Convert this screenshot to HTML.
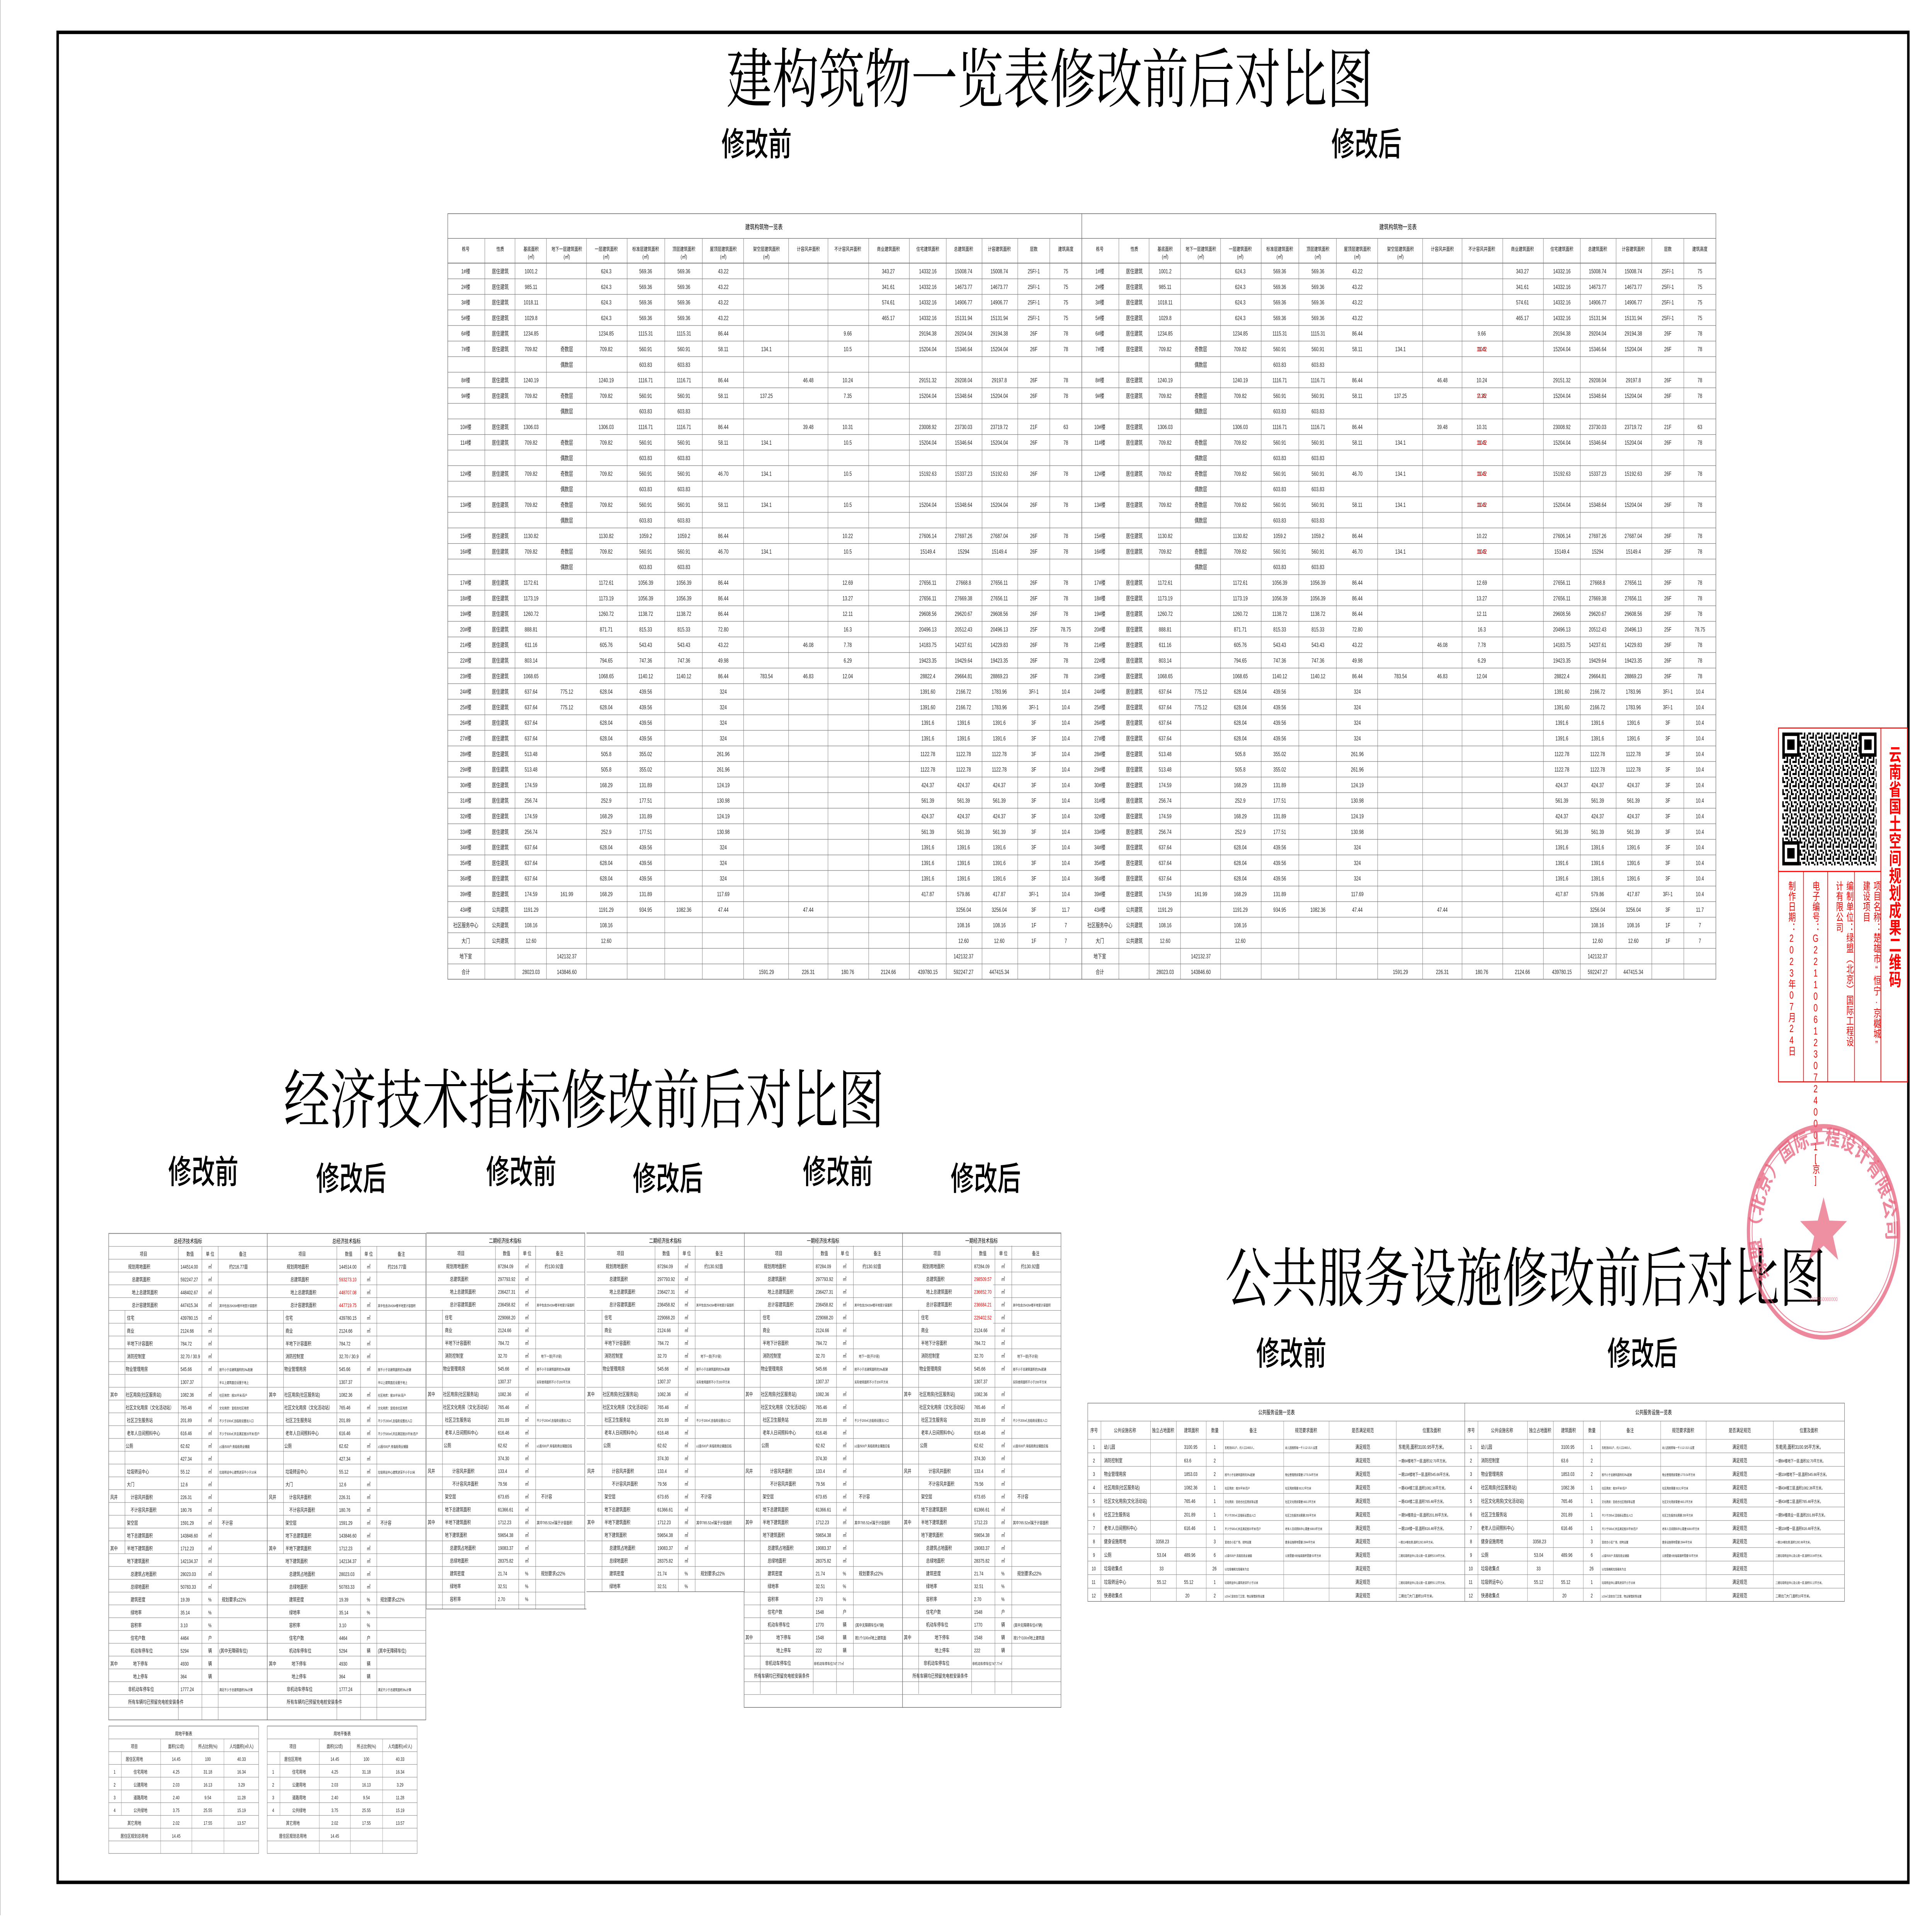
<!DOCTYPE html>
<html><head><meta charset="utf-8"><style>
html,body{margin:0;padding:0;background:#fff;width:100vw;height:100vh;overflow:hidden;}
svg{display:block;width:100vw;height:100vh;}
text{font-family:"Liberation Sans","Noto Sans CJK SC",sans-serif;}
.ti{font-family:"Liberation Serif","Noto Serif CJK SC",serif;}
.sb{font-family:"Liberation Sans","Noto Sans CJK SC",sans-serif;font-weight:500;}
</style></head><body>
<svg xmlns="http://www.w3.org/2000/svg" xmlns:xlink="http://www.w3.org/1999/xlink" viewBox="0 0 1568 1107.45" preserveAspectRatio="none">
<defs>
<pattern id="pb" x="0" y="152" width="20" height="9" patternUnits="userSpaceOnUse"><rect x="0" y="0" width="20" height="0.28" fill="#777"/></pattern>
<pattern id="pe" x="0" y="712.9" width="20" height="7.4" patternUnits="userSpaceOnUse"><rect x="0" y="0" width="20" height="0.25" fill="#888"/></pattern>
<pattern id="ps" x="0" y="997.6" width="20" height="7.37" patternUnits="userSpaceOnUse"><rect x="0" y="0" width="20" height="0.25" fill="#888"/></pattern>
<pattern id="pp" x="0" y="831.8" width="20" height="7.82" patternUnits="userSpaceOnUse"><rect x="0" y="0" width="20" height="0.25" fill="#888"/></pattern>
<pattern id="qr" x="1446.5" y="423.4" width="7" height="7" patternUnits="userSpaceOnUse">
<rect x="0" y="0" width="2.4" height="1.2" fill="#000"/><rect x="3.5" y="0" width="1.2" height="2.4" fill="#000"/><rect x="1.2" y="2.4" width="3.5" height="1.2" fill="#000"/><rect x="5.8" y="1.2" width="1.2" height="3.5" fill="#000"/><rect x="0" y="4.7" width="1.2" height="2.3" fill="#000"/><rect x="2.4" y="4.7" width="2.3" height="1.2" fill="#000"/><rect x="4.7" y="5.8" width="1.2" height="1.2" fill="#000"/></pattern>
<clipPath id="cT3"><rect x="346" y="712" width="130" height="218"/></clipPath>
<clipPath id="cT4"><rect x="476" y="712" width="130" height="208"/></clipPath>
</defs>
<rect x="0" y="0" width="1568" height="1107.45" fill="#fff"/>
<line x1="0.2" y1="0" x2="0.2" y2="1107" stroke="#999" stroke-width="0.3"/>
<rect x="46.8" y="18.7" width="1502" height="1069.3" fill="none" stroke="#000" stroke-width="2"/>

<text class="ti" x="852" y="59" font-size="37.5" text-anchor="middle" fill="#000">建构筑物一览表修改前后对比图</text>
<text class="sb" x="614" y="90" font-size="19" text-anchor="middle">修改前</text>
<text class="sb" x="1109" y="90" font-size="19" text-anchor="middle">修改后</text>

<text class="ti" x="474" y="649" font-size="37.5" text-anchor="middle">经济技术指标修改前后对比图</text>
<text class="sb" x="165" y="684" font-size="19" text-anchor="middle">修改前</text>
<text class="sb" x="285" y="688" font-size="19" text-anchor="middle">修改后</text>
<text class="sb" x="423" y="684" font-size="19" text-anchor="middle">修改前</text>
<text class="sb" x="542" y="688" font-size="19" text-anchor="middle">修改后</text>
<text class="sb" x="680" y="684" font-size="19" text-anchor="middle">修改前</text>
<text class="sb" x="800" y="688" font-size="19" text-anchor="middle">修改后</text>

<text class="ti" x="1238" y="752" font-size="37.5" text-anchor="middle">公共服务设施修改前后对比图</text>
<text class="sb" x="1048" y="789" font-size="19" text-anchor="middle">修改前</text>
<text class="sb" x="1333" y="789" font-size="19" text-anchor="middle">修改后</text>

<g id="bigT">
<rect x="363.4" y="123.5" width="514.6" height="442.5" fill="#fff" stroke="#666" stroke-width="0.35"/>
<rect x="363.4" y="152" width="514.6" height="414" fill="url(#pb)"/>
<line x1="363.4" y1="137.8" x2="878" y2="137.8" stroke="#666" stroke-width="0.3"/>
<line x1="363.4" y1="152" x2="878" y2="152" stroke="#666" stroke-width="0.3"/>
<g stroke="#777" stroke-width="0.28">
<line x1="393.5" y1="137.8" x2="393.5" y2="566"/><line x1="418" y1="137.8" x2="418" y2="566"/><line x1="443.5" y1="137.8" x2="443.5" y2="566"/><line x1="476" y1="137.8" x2="476" y2="566"/><line x1="509" y1="137.8" x2="509" y2="566"/><line x1="539.5" y1="137.8" x2="539.5" y2="566"/><line x1="570" y1="137.8" x2="570" y2="566"/><line x1="603.5" y1="137.8" x2="603.5" y2="566"/><line x1="640" y1="137.8" x2="640" y2="566"/><line x1="672" y1="137.8" x2="672" y2="566"/><line x1="705" y1="137.8" x2="705" y2="566"/><line x1="738" y1="137.8" x2="738" y2="566"/><line x1="768" y1="137.8" x2="768" y2="566"/><line x1="797" y1="137.8" x2="797" y2="566"/><line x1="826" y1="137.8" x2="826" y2="566"/><line x1="852" y1="137.8" x2="852" y2="566"/>
</g>
<text x="620" y="132.5" font-size="3.8" text-anchor="middle">建筑构筑物一览表</text>
<g font-size="3.1" text-anchor="middle" fill="#111">
<text y="145"><tspan x="378">栋号</tspan><tspan x="406">性质</tspan><tspan x="431">基底面积</tspan><tspan x="460">地下一层建筑面积</tspan><tspan x="492">一层建筑面积</tspan><tspan x="524">标准层建筑面积</tspan><tspan x="555">顶层建筑面积</tspan><tspan x="587">屋顶层建筑面积</tspan><tspan x="622">架空层建筑面积</tspan><tspan x="656">计容风井面积</tspan><tspan x="688">不计容风井面积</tspan><tspan x="721">商业建筑面积</tspan><tspan x="753">住宅建筑面积</tspan><tspan x="782">总建筑面积</tspan><tspan x="811">计容建筑面积</tspan><tspan x="839">层数</tspan><tspan x="865">建筑高度</tspan></text>
<text y="149.5"><tspan x="431">(㎡)</tspan><tspan x="460">(㎡)</tspan><tspan x="492">(㎡)</tspan><tspan x="524">(㎡)</tspan><tspan x="555">(㎡)</tspan><tspan x="587">(㎡)</tspan><tspan x="622">(㎡)</tspan></text>
</g>
<g font-size="3.4" text-anchor="middle" fill="#222">
<text y="158"><tspan x="378">1#楼</tspan><tspan x="406">居住建筑</tspan><tspan x="431">1001.2</tspan><tspan x="492">624.3</tspan><tspan x="524">569.36</tspan><tspan x="555">569.36</tspan><tspan x="587">43.22</tspan><tspan x="721">343.27</tspan><tspan x="753">14332.16</tspan><tspan x="782">15008.74</tspan><tspan x="811">15008.74</tspan><tspan x="839">25F/-1</tspan><tspan x="865">75</tspan></text>
<text y="167"><tspan x="378">2#楼</tspan><tspan x="406">居住建筑</tspan><tspan x="431">985.11</tspan><tspan x="492">624.3</tspan><tspan x="524">569.36</tspan><tspan x="555">569.36</tspan><tspan x="587">43.22</tspan><tspan x="721">341.61</tspan><tspan x="753">14332.16</tspan><tspan x="782">14673.77</tspan><tspan x="811">14673.77</tspan><tspan x="839">25F/-1</tspan><tspan x="865">75</tspan></text>
<text y="176"><tspan x="378">3#楼</tspan><tspan x="406">居住建筑</tspan><tspan x="431">1018.11</tspan><tspan x="492">624.3</tspan><tspan x="524">569.36</tspan><tspan x="555">569.36</tspan><tspan x="587">43.22</tspan><tspan x="721">574.61</tspan><tspan x="753">14332.16</tspan><tspan x="782">14906.77</tspan><tspan x="811">14906.77</tspan><tspan x="839">25F/-1</tspan><tspan x="865">75</tspan></text>
<text y="185"><tspan x="378">5#楼</tspan><tspan x="406">居住建筑</tspan><tspan x="431">1029.8</tspan><tspan x="492">624.3</tspan><tspan x="524">569.36</tspan><tspan x="555">569.36</tspan><tspan x="587">43.22</tspan><tspan x="721">465.17</tspan><tspan x="753">14332.16</tspan><tspan x="782">15131.94</tspan><tspan x="811">15131.94</tspan><tspan x="839">25F/-1</tspan><tspan x="865">75</tspan></text>
<text y="194"><tspan x="378">6#楼</tspan><tspan x="406">居住建筑</tspan><tspan x="431">1234.85</tspan><tspan x="492">1234.85</tspan><tspan x="524">1115.31</tspan><tspan x="555">1115.31</tspan><tspan x="587">86.44</tspan><tspan x="688">9.66</tspan><tspan x="753">29194.38</tspan><tspan x="782">29204.04</tspan><tspan x="811">29194.38</tspan><tspan x="839">26F</tspan><tspan x="865">78</tspan></text>
<text y="203"><tspan x="378">7#楼</tspan><tspan x="406">居住建筑</tspan><tspan x="431">709.82</tspan><tspan x="460">奇数层</tspan><tspan x="492">709.82</tspan><tspan x="524">560.91</tspan><tspan x="555">560.91</tspan><tspan x="587">58.11</tspan><tspan x="622">134.1</tspan><tspan x="688">10.5</tspan><tspan x="753">15204.04</tspan><tspan x="782">15346.64</tspan><tspan x="811">15204.04</tspan><tspan x="839">26F</tspan><tspan x="865">78</tspan></text>
<text y="212"><tspan x="460">偶数层</tspan><tspan x="524">603.83</tspan><tspan x="555">603.83</tspan></text>
<text y="221"><tspan x="378">8#楼</tspan><tspan x="406">居住建筑</tspan><tspan x="431">1240.19</tspan><tspan x="492">1240.19</tspan><tspan x="524">1116.71</tspan><tspan x="555">1116.71</tspan><tspan x="587">86.44</tspan><tspan x="656">46.48</tspan><tspan x="688">10.24</tspan><tspan x="753">29151.32</tspan><tspan x="782">29208.04</tspan><tspan x="811">29197.8</tspan><tspan x="839">26F</tspan><tspan x="865">78</tspan></text>
<text y="230"><tspan x="378">9#楼</tspan><tspan x="406">居住建筑</tspan><tspan x="431">709.82</tspan><tspan x="460">奇数层</tspan><tspan x="492">709.82</tspan><tspan x="524">560.91</tspan><tspan x="555">560.91</tspan><tspan x="587">58.11</tspan><tspan x="622">137.25</tspan><tspan x="688">7.35</tspan><tspan x="753">15204.04</tspan><tspan x="782">15348.64</tspan><tspan x="811">15204.04</tspan><tspan x="839">26F</tspan><tspan x="865">78</tspan></text>
<text y="239"><tspan x="460">偶数层</tspan><tspan x="524">603.83</tspan><tspan x="555">603.83</tspan></text>
<text y="248"><tspan x="378">10#楼</tspan><tspan x="406">居住建筑</tspan><tspan x="431">1306.03</tspan><tspan x="492">1306.03</tspan><tspan x="524">1116.71</tspan><tspan x="555">1116.71</tspan><tspan x="587">86.44</tspan><tspan x="656">39.48</tspan><tspan x="688">10.31</tspan><tspan x="753">23008.92</tspan><tspan x="782">23730.03</tspan><tspan x="811">23719.72</tspan><tspan x="839">21F</tspan><tspan x="865">63</tspan></text>
<text y="257"><tspan x="378">11#楼</tspan><tspan x="406">居住建筑</tspan><tspan x="431">709.82</tspan><tspan x="460">奇数层</tspan><tspan x="492">709.82</tspan><tspan x="524">560.91</tspan><tspan x="555">560.91</tspan><tspan x="587">58.11</tspan><tspan x="622">134.1</tspan><tspan x="688">10.5</tspan><tspan x="753">15204.04</tspan><tspan x="782">15346.64</tspan><tspan x="811">15204.04</tspan><tspan x="839">26F</tspan><tspan x="865">78</tspan></text>
<text y="266"><tspan x="460">偶数层</tspan><tspan x="524">603.83</tspan><tspan x="555">603.83</tspan></text>
<text y="275"><tspan x="378">12#楼</tspan><tspan x="406">居住建筑</tspan><tspan x="431">709.82</tspan><tspan x="460">奇数层</tspan><tspan x="492">709.82</tspan><tspan x="524">560.91</tspan><tspan x="555">560.91</tspan><tspan x="587">46.70</tspan><tspan x="622">134.1</tspan><tspan x="688">10.5</tspan><tspan x="753">15192.63</tspan><tspan x="782">15337.23</tspan><tspan x="811">15192.63</tspan><tspan x="839">26F</tspan><tspan x="865">78</tspan></text>
<text y="284"><tspan x="460">偶数层</tspan><tspan x="524">603.83</tspan><tspan x="555">603.83</tspan></text>
<text y="293"><tspan x="378">13#楼</tspan><tspan x="406">居住建筑</tspan><tspan x="431">709.82</tspan><tspan x="460">奇数层</tspan><tspan x="492">709.82</tspan><tspan x="524">560.91</tspan><tspan x="555">560.91</tspan><tspan x="587">58.11</tspan><tspan x="622">134.1</tspan><tspan x="688">10.5</tspan><tspan x="753">15204.04</tspan><tspan x="782">15348.64</tspan><tspan x="811">15204.04</tspan><tspan x="839">26F</tspan><tspan x="865">78</tspan></text>
<text y="302"><tspan x="460">偶数层</tspan><tspan x="524">603.83</tspan><tspan x="555">603.83</tspan></text>
<text y="311"><tspan x="378">15#楼</tspan><tspan x="406">居住建筑</tspan><tspan x="431">1130.82</tspan><tspan x="492">1130.82</tspan><tspan x="524">1059.2</tspan><tspan x="555">1059.2</tspan><tspan x="587">86.44</tspan><tspan x="688">10.22</tspan><tspan x="753">27606.14</tspan><tspan x="782">27697.26</tspan><tspan x="811">27687.04</tspan><tspan x="839">26F</tspan><tspan x="865">78</tspan></text>
<text y="320"><tspan x="378">16#楼</tspan><tspan x="406">居住建筑</tspan><tspan x="431">709.82</tspan><tspan x="460">奇数层</tspan><tspan x="492">709.82</tspan><tspan x="524">560.91</tspan><tspan x="555">560.91</tspan><tspan x="587">46.70</tspan><tspan x="622">134.1</tspan><tspan x="688">10.5</tspan><tspan x="753">15149.4</tspan><tspan x="782">15294</tspan><tspan x="811">15149.4</tspan><tspan x="839">26F</tspan><tspan x="865">78</tspan></text>
<text y="329"><tspan x="460">偶数层</tspan><tspan x="524">603.83</tspan><tspan x="555">603.83</tspan></text>
<text y="338"><tspan x="378">17#楼</tspan><tspan x="406">居住建筑</tspan><tspan x="431">1172.61</tspan><tspan x="492">1172.61</tspan><tspan x="524">1056.39</tspan><tspan x="555">1056.39</tspan><tspan x="587">86.44</tspan><tspan x="688">12.69</tspan><tspan x="753">27656.11</tspan><tspan x="782">27668.8</tspan><tspan x="811">27656.11</tspan><tspan x="839">26F</tspan><tspan x="865">78</tspan></text>
<text y="347"><tspan x="378">18#楼</tspan><tspan x="406">居住建筑</tspan><tspan x="431">1173.19</tspan><tspan x="492">1173.19</tspan><tspan x="524">1056.39</tspan><tspan x="555">1056.39</tspan><tspan x="587">86.44</tspan><tspan x="688">13.27</tspan><tspan x="753">27656.11</tspan><tspan x="782">27669.38</tspan><tspan x="811">27656.11</tspan><tspan x="839">26F</tspan><tspan x="865">78</tspan></text>
<text y="356"><tspan x="378">19#楼</tspan><tspan x="406">居住建筑</tspan><tspan x="431">1260.72</tspan><tspan x="492">1260.72</tspan><tspan x="524">1138.72</tspan><tspan x="555">1138.72</tspan><tspan x="587">86.44</tspan><tspan x="688">12.11</tspan><tspan x="753">29608.56</tspan><tspan x="782">29620.67</tspan><tspan x="811">29608.56</tspan><tspan x="839">26F</tspan><tspan x="865">78</tspan></text>
<text y="365"><tspan x="378">20#楼</tspan><tspan x="406">居住建筑</tspan><tspan x="431">888.81</tspan><tspan x="492">871.71</tspan><tspan x="524">815.33</tspan><tspan x="555">815.33</tspan><tspan x="587">72.80</tspan><tspan x="688">16.3</tspan><tspan x="753">20496.13</tspan><tspan x="782">20512.43</tspan><tspan x="811">20496.13</tspan><tspan x="839">25F</tspan><tspan x="865">78.75</tspan></text>
<text y="374"><tspan x="378">21#楼</tspan><tspan x="406">居住建筑</tspan><tspan x="431">611.16</tspan><tspan x="492">605.76</tspan><tspan x="524">543.43</tspan><tspan x="555">543.43</tspan><tspan x="587">43.22</tspan><tspan x="656">46.08</tspan><tspan x="688">7.78</tspan><tspan x="753">14183.75</tspan><tspan x="782">14237.61</tspan><tspan x="811">14229.83</tspan><tspan x="839">26F</tspan><tspan x="865">78</tspan></text>
<text y="383"><tspan x="378">22#楼</tspan><tspan x="406">居住建筑</tspan><tspan x="431">803.14</tspan><tspan x="492">794.65</tspan><tspan x="524">747.36</tspan><tspan x="555">747.36</tspan><tspan x="587">49.98</tspan><tspan x="688">6.29</tspan><tspan x="753">19423.35</tspan><tspan x="782">19429.64</tspan><tspan x="811">19423.35</tspan><tspan x="839">26F</tspan><tspan x="865">78</tspan></text>
<text y="392"><tspan x="378">23#楼</tspan><tspan x="406">居住建筑</tspan><tspan x="431">1068.65</tspan><tspan x="492">1068.65</tspan><tspan x="524">1140.12</tspan><tspan x="555">1140.12</tspan><tspan x="587">86.44</tspan><tspan x="622">783.54</tspan><tspan x="656">46.83</tspan><tspan x="688">12.04</tspan><tspan x="753">28822.4</tspan><tspan x="782">29664.81</tspan><tspan x="811">28869.23</tspan><tspan x="839">26F</tspan><tspan x="865">78</tspan></text>
<text y="401"><tspan x="378">24#楼</tspan><tspan x="406">居住建筑</tspan><tspan x="431">637.64</tspan><tspan x="460">775.12</tspan><tspan x="492">628.04</tspan><tspan x="524">439.56</tspan><tspan x="587">324</tspan><tspan x="753">1391.60</tspan><tspan x="782">2166.72</tspan><tspan x="811">1783.96</tspan><tspan x="839">3F/-1</tspan><tspan x="865">10.4</tspan></text>
<text y="410"><tspan x="378">25#楼</tspan><tspan x="406">居住建筑</tspan><tspan x="431">637.64</tspan><tspan x="460">775.12</tspan><tspan x="492">628.04</tspan><tspan x="524">439.56</tspan><tspan x="587">324</tspan><tspan x="753">1391.60</tspan><tspan x="782">2166.72</tspan><tspan x="811">1783.96</tspan><tspan x="839">3F/-1</tspan><tspan x="865">10.4</tspan></text>
<text y="419"><tspan x="378">26#楼</tspan><tspan x="406">居住建筑</tspan><tspan x="431">637.64</tspan><tspan x="492">628.04</tspan><tspan x="524">439.56</tspan><tspan x="587">324</tspan><tspan x="753">1391.6</tspan><tspan x="782">1391.6</tspan><tspan x="811">1391.6</tspan><tspan x="839">3F</tspan><tspan x="865">10.4</tspan></text>
<text y="428"><tspan x="378">27#楼</tspan><tspan x="406">居住建筑</tspan><tspan x="431">637.64</tspan><tspan x="492">628.04</tspan><tspan x="524">439.56</tspan><tspan x="587">324</tspan><tspan x="753">1391.6</tspan><tspan x="782">1391.6</tspan><tspan x="811">1391.6</tspan><tspan x="839">3F</tspan><tspan x="865">10.4</tspan></text>
<text y="437"><tspan x="378">28#楼</tspan><tspan x="406">居住建筑</tspan><tspan x="431">513.48</tspan><tspan x="492">505.8</tspan><tspan x="524">355.02</tspan><tspan x="587">261.96</tspan><tspan x="753">1122.78</tspan><tspan x="782">1122.78</tspan><tspan x="811">1122.78</tspan><tspan x="839">3F</tspan><tspan x="865">10.4</tspan></text>
<text y="446"><tspan x="378">29#楼</tspan><tspan x="406">居住建筑</tspan><tspan x="431">513.48</tspan><tspan x="492">505.8</tspan><tspan x="524">355.02</tspan><tspan x="587">261.96</tspan><tspan x="753">1122.78</tspan><tspan x="782">1122.78</tspan><tspan x="811">1122.78</tspan><tspan x="839">3F</tspan><tspan x="865">10.4</tspan></text>
<text y="455"><tspan x="378">30#楼</tspan><tspan x="406">居住建筑</tspan><tspan x="431">174.59</tspan><tspan x="492">168.29</tspan><tspan x="524">131.89</tspan><tspan x="587">124.19</tspan><tspan x="753">424.37</tspan><tspan x="782">424.37</tspan><tspan x="811">424.37</tspan><tspan x="839">3F</tspan><tspan x="865">10.4</tspan></text>
<text y="464"><tspan x="378">31#楼</tspan><tspan x="406">居住建筑</tspan><tspan x="431">256.74</tspan><tspan x="492">252.9</tspan><tspan x="524">177.51</tspan><tspan x="587">130.98</tspan><tspan x="753">561.39</tspan><tspan x="782">561.39</tspan><tspan x="811">561.39</tspan><tspan x="839">3F</tspan><tspan x="865">10.4</tspan></text>
<text y="473"><tspan x="378">32#楼</tspan><tspan x="406">居住建筑</tspan><tspan x="431">174.59</tspan><tspan x="492">168.29</tspan><tspan x="524">131.89</tspan><tspan x="587">124.19</tspan><tspan x="753">424.37</tspan><tspan x="782">424.37</tspan><tspan x="811">424.37</tspan><tspan x="839">3F</tspan><tspan x="865">10.4</tspan></text>
<text y="482"><tspan x="378">33#楼</tspan><tspan x="406">居住建筑</tspan><tspan x="431">256.74</tspan><tspan x="492">252.9</tspan><tspan x="524">177.51</tspan><tspan x="587">130.98</tspan><tspan x="753">561.39</tspan><tspan x="782">561.39</tspan><tspan x="811">561.39</tspan><tspan x="839">3F</tspan><tspan x="865">10.4</tspan></text>
<text y="491"><tspan x="378">34#楼</tspan><tspan x="406">居住建筑</tspan><tspan x="431">637.64</tspan><tspan x="492">628.04</tspan><tspan x="524">439.56</tspan><tspan x="587">324</tspan><tspan x="753">1391.6</tspan><tspan x="782">1391.6</tspan><tspan x="811">1391.6</tspan><tspan x="839">3F</tspan><tspan x="865">10.4</tspan></text>
<text y="500"><tspan x="378">35#楼</tspan><tspan x="406">居住建筑</tspan><tspan x="431">637.64</tspan><tspan x="492">628.04</tspan><tspan x="524">439.56</tspan><tspan x="587">324</tspan><tspan x="753">1391.6</tspan><tspan x="782">1391.6</tspan><tspan x="811">1391.6</tspan><tspan x="839">3F</tspan><tspan x="865">10.4</tspan></text>
<text y="509"><tspan x="378">36#楼</tspan><tspan x="406">居住建筑</tspan><tspan x="431">637.64</tspan><tspan x="492">628.04</tspan><tspan x="524">439.56</tspan><tspan x="587">324</tspan><tspan x="753">1391.6</tspan><tspan x="782">1391.6</tspan><tspan x="811">1391.6</tspan><tspan x="839">3F</tspan><tspan x="865">10.4</tspan></text>
<text y="518"><tspan x="378">39#楼</tspan><tspan x="406">居住建筑</tspan><tspan x="431">174.59</tspan><tspan x="460">161.99</tspan><tspan x="492">168.29</tspan><tspan x="524">131.89</tspan><tspan x="587">117.69</tspan><tspan x="753">417.87</tspan><tspan x="782">579.86</tspan><tspan x="811">417.87</tspan><tspan x="839">3F/-1</tspan><tspan x="865">10.4</tspan></text>
<text y="527"><tspan x="378">43#楼</tspan><tspan x="406">公共建筑</tspan><tspan x="431">1191.29</tspan><tspan x="492">1191.29</tspan><tspan x="524">934.95</tspan><tspan x="555">1082.36</tspan><tspan x="587">47.44</tspan><tspan x="656">47.44</tspan><tspan x="782">3256.04</tspan><tspan x="811">3256.04</tspan><tspan x="839">3F</tspan><tspan x="865">11.7</tspan></text>
<text y="536"><tspan x="378">社区服务中心</tspan><tspan x="406">公共建筑</tspan><tspan x="431">108.16</tspan><tspan x="492">108.16</tspan><tspan x="782">108.16</tspan><tspan x="811">108.16</tspan><tspan x="839">1F</tspan><tspan x="865">7</tspan></text>
<text y="545"><tspan x="378">大门</tspan><tspan x="406">公共建筑</tspan><tspan x="431">12.60</tspan><tspan x="492">12.60</tspan><tspan x="782">12.60</tspan><tspan x="811">12.60</tspan><tspan x="839">1F</tspan><tspan x="865">7</tspan></text>
<text y="554"><tspan x="378">地下室</tspan><tspan x="460">142132.37</tspan><tspan x="782">142132.37</tspan></text>
<text y="563"><tspan x="378">合计</tspan><tspan x="431">28023.03</tspan><tspan x="460">143846.60</tspan><tspan x="622">1591.29</tspan><tspan x="656">226.31</tspan><tspan x="688">180.76</tspan><tspan x="721">2124.66</tspan><tspan x="753">439780.15</tspan><tspan x="782">592247.27</tspan><tspan x="811">447415.34</tspan></text>
</g>
</g>
<use xlink:href="#bigT" href="#bigT" transform="translate(514.6,0)"/>
<g font-size="3.4" text-anchor="middle" fill="#e00">
<text y="203"><tspan x="1202.6">11.42</tspan></text>
<text y="230"><tspan x="1202.6">11.42</tspan></text>
<text y="257"><tspan x="1202.6">11.42</tspan></text>
<text y="275"><tspan x="1202.6">11.42</tspan></text>
<text y="293"><tspan x="1202.6">11.42</tspan></text>
<text y="320"><tspan x="1202.6">11.42</tspan></text>
</g>

<g>
<rect x="1443.4" y="420.8" width="104.6" height="204.5" fill="#fff" stroke="#f00" stroke-width="0.6"/>
<line x1="1526.5" y1="420.8" x2="1526.5" y2="625.3" stroke="#f00" stroke-width="0.6"/>
<line x1="1443.4" y1="503.7" x2="1526.5" y2="503.7" stroke="#f00" stroke-width="0.6"/>
<line x1="1463.7" y1="503.7" x2="1463.7" y2="625.3" stroke="#f00" stroke-width="0.5"/>
<line x1="1483.3" y1="503.7" x2="1483.3" y2="625.3" stroke="#f00" stroke-width="0.5"/>
<line x1="1505.1" y1="503.7" x2="1505.1" y2="625.3" stroke="#f00" stroke-width="0.5"/>
<rect x="1446.5" y="423.4" width="76.5" height="76.8" fill="url(#qr)"/>
<g fill="#fff"><rect x="1446.5" y="423.4" width="14" height="14"/><rect x="1509" y="423.4" width="14" height="14"/><rect x="1446.5" y="486.2" width="14" height="14"/></g>
<g fill="none" stroke="#000" stroke-width="2"><rect x="1447.5" y="424.4" width="12" height="12"/><rect x="1510" y="424.4" width="12" height="12"/><rect x="1447.5" y="487.2" width="12" height="12"/></g>
<g fill="#000"><rect x="1450.5" y="427.4" width="6" height="6"/><rect x="1513" y="427.4" width="6" height="6"/><rect x="1450.5" y="490.2" width="6" height="6"/></g>
<g fill="#f00">
<text x="1537.2" y="431" font-size="10" style="writing-mode:vertical-rl;text-orientation:upright" font-weight="bold">云南省国土空间规划成果二维码</text>
<text x="1454" y="509" font-size="6" style="writing-mode:vertical-rl;text-orientation:upright">制作日期：2023年07月24日</text>
<text x="1473.5" y="509" font-size="6" style="writing-mode:vertical-rl;text-orientation:upright">电子编号：G221100612307240001[京]</text>
<text x="1501" y="509" font-size="6" style="writing-mode:vertical-rl;text-orientation:upright">编制单位：绿盟（北京）国际工程设</text>
<text x="1492.6" y="509" font-size="6" style="writing-mode:vertical-rl;text-orientation:upright">计有限公司</text>
<text x="1523" y="509" font-size="6" style="writing-mode:vertical-rl;text-orientation:upright">项目名称：楚雄市“恒宁·京樾城”</text>
<text x="1514.5" y="509" font-size="6" style="writing-mode:vertical-rl;text-orientation:upright">建设项目</text>
</g>
</g>

<g id="econT1">
<rect x="88.2" y="712.9" width="128.7" height="281.2" fill="#fff" stroke="#555" stroke-width="0.3"/>
<rect x="88.2" y="712.9" width="128.7" height="281.2" fill="url(#pe)"/>
<g stroke="#777" stroke-width="0.25">
<line x1="144.7" y1="720.3" x2="144.7" y2="994"/><line x1="163.9" y1="720.3" x2="163.9" y2="994"/><line x1="177.1" y1="720.3" x2="177.1" y2="994"/><line x1="101.4" y1="757.3" x2="101.4" y2="898"/>
</g>
<text x="152.5" y="718.5" font-size="3.3" text-anchor="middle">总经济技术指标</text>
<g font-size="3" fill="#222">
<text y="725.9"><tspan x="116.5" text-anchor="middle">项目</tspan><tspan x="154.3" text-anchor="middle">数值</tspan><tspan x="170.5" text-anchor="middle">单 位</tspan><tspan x="197" text-anchor="middle">备注</tspan></text>
<text y="733.3"><tspan x="104">规划用地面积</tspan><tspan x="146.5">144514.00</tspan><tspan x="169">㎡</tspan><tspan x="186">约216.77亩</tspan></text>
<text y="740.7"><tspan x="107">总建筑面积</tspan><tspan x="146.5">592247.27</tspan><tspan x="169">㎡</tspan></text>
<text y="748.1"><tspan x="107">地上总建筑面积</tspan><tspan x="146.5">448402.67</tspan><tspan x="169">㎡</tspan></text>
<text y="755.5"><tspan x="107">总计容建筑面积</tspan><tspan x="146.5">447415.34</tspan><tspan x="169">㎡</tspan><tspan x="178" font-size="2">其中包含25#26#楼半地室计容面积</tspan></text>
<text y="762.9"><tspan x="103">住宅</tspan><tspan x="146.5">439780.15</tspan><tspan x="169">㎡</tspan></text>
<text y="770.3"><tspan x="103">商业</tspan><tspan x="146.5">2124.66</tspan><tspan x="169">㎡</tspan></text>
<text y="777.7"><tspan x="103">半地下计容面积</tspan><tspan x="146.5">784.72</tspan><tspan x="169">㎡</tspan></text>
<text y="785.1"><tspan x="103">消防控制室</tspan><tspan x="146.5">32.70 / 30.9</tspan><tspan x="169">㎡</tspan></text>
<text y="792.5"><tspan x="102">物业管理用房</tspan><tspan x="146.5">545.66</tspan><tspan x="169">㎡</tspan><tspan x="178" font-size="2">按不小于总建筑面积的3‰配建</tspan></text>
<text y="799.9"><tspan x="146.5">1307.37</tspan><tspan x="178" font-size="2">半以上建筑面应设置于地上</tspan></text>
<text y="807.3"><tspan x="89.5">其中</tspan><tspan x="102">社区用房(社区服务站)</tspan><tspan x="146.5">1082.36</tspan><tspan x="169">㎡</tspan><tspan x="178" font-size="2">社区用房：按30平米/百户</tspan></text>
<text y="814.7"><tspan x="102">社区文化用房（文化活动站）</tspan><tspan x="146.5">765.46</tspan><tspan x="169">㎡</tspan><tspan x="178" font-size="2">文化用房：宜结合社区用房</tspan></text>
<text y="822.1"><tspan x="103">社区卫生服务站</tspan><tspan x="146.5">201.89</tspan><tspan x="169">㎡</tspan><tspan x="178" font-size="2">不少于200㎡,且临街设置出入口</tspan></text>
<text y="829.5"><tspan x="103">老年人日间照料中心</tspan><tspan x="146.5">616.46</tspan><tspan x="169">㎡</tspan><tspan x="178" font-size="2">不少于500㎡,并且满足按20平米/百户</tspan></text>
<text y="836.9"><tspan x="102">公厕</tspan><tspan x="146.5">62.62</tspan><tspan x="169">㎡</tspan><tspan x="178" font-size="2">≥1座/500户,有临街商业铺面</tspan></text>
<text y="844.3"><tspan x="146.5">427.34</tspan><tspan x="169">㎡</tspan></text>
<text y="851.7"><tspan x="103">垃圾转运中心</tspan><tspan x="146.5">55.12</tspan><tspan x="169">㎡</tspan><tspan x="178" font-size="2">垃圾转运中心建筑进深不小于10米</tspan></text>
<text y="859.1"><tspan x="103">大门</tspan><tspan x="146.5">12.6</tspan><tspan x="169">㎡</tspan></text>
<text y="866.5"><tspan x="89.5">风井</tspan><tspan x="106">计容风井面积</tspan><tspan x="146.5">226.31</tspan><tspan x="169">㎡</tspan></text>
<text y="873.9"><tspan x="106">不计容风井面积</tspan><tspan x="146.5">180.76</tspan><tspan x="169">㎡</tspan></text>
<text y="881.3"><tspan x="103">架空层</tspan><tspan x="146.5">1591.29</tspan><tspan x="169">㎡</tspan><tspan x="180">不计容</tspan></text>
<text y="888.7"><tspan x="103">地下总建筑面积</tspan><tspan x="146.5">143846.60</tspan><tspan x="169">㎡</tspan></text>
<text y="896.1"><tspan x="89.5">其中</tspan><tspan x="103">半地下建筑面积</tspan><tspan x="146.5">1712.23</tspan><tspan x="169">㎡</tspan></text>
<text y="903.5"><tspan x="103">地下建筑面积</tspan><tspan x="146.5">142134.37</tspan><tspan x="169">㎡</tspan></text>
<text y="910.9"><tspan x="106">总建筑占地面积</tspan><tspan x="146.5">28023.03</tspan><tspan x="169">㎡</tspan></text>
<text y="918.3"><tspan x="106">总绿地面积</tspan><tspan x="146.5">50783.33</tspan><tspan x="169">㎡</tspan></text>
<text y="925.7"><tspan x="106">建筑密度</tspan><tspan x="146.5">19.39</tspan><tspan x="169">%</tspan><tspan x="180">规划要求≤22%</tspan></text>
<text y="933.1"><tspan x="106">绿地率</tspan><tspan x="146.5">35.14</tspan><tspan x="169">%</tspan></text>
<text y="940.5"><tspan x="106">容积率</tspan><tspan x="146.5">3.10</tspan><tspan x="169">%</tspan></text>
<text y="947.9"><tspan x="106">住宅户数</tspan><tspan x="146.5">4464</tspan><tspan x="169">户</tspan></text>
<text y="955.3"><tspan x="106">机动车停车位</tspan><tspan x="146.5">5294</tspan><tspan x="169">辆</tspan><tspan x="178">(其中无障碍车位)</tspan></text>
<text y="962.7"><tspan x="89.5">其中</tspan><tspan x="108">地下停车</tspan><tspan x="146.5">4930</tspan><tspan x="169">辆</tspan></text>
<text y="970.1"><tspan x="108">地上停车</tspan><tspan x="146.5">364</tspan><tspan x="169">辆</tspan></text>
<text y="977.5"><tspan x="104">非机动车停车位</tspan><tspan x="146.5">1777.24</tspan><tspan x="178" font-size="2">满足不少于总建筑面积3‰计算</tspan></text>
<text y="984.9"><tspan x="104">所有车辆均已预留充电桩安装条件</tspan></text>
</g>
</g>
<use xlink:href="#econT1" href="#econT1" transform="translate(128.7,0)"/>
<g font-size="3" fill="#e00"><rect x="274.8" y="736.5" width="17" height="20" fill="#fff"/><text y="740.7"><tspan x="275.2">593273.10</tspan></text><text y="748.1"><tspan x="275.2">448707.08</tspan></text><text y="755.5"><tspan x="275.2">447719.75</tspan></text></g>

<g id="smallT">
<rect x="88.2" y="997.6" width="121.7" height="73.7" fill="#fff" stroke="#777" stroke-width="0.25"/>
<rect x="88.2" y="997.6" width="121.7" height="73.7" fill="url(#ps)"/>
<g stroke="#888" stroke-width="0.22"><line x1="98.5" y1="1012.3" x2="98.5" y2="1049.2"/><line x1="130.4" y1="1005" x2="130.4" y2="1071.3"/><line x1="155.7" y1="1005" x2="155.7" y2="1071.3"/><line x1="181.8" y1="1005" x2="181.8" y2="1071.3"/></g>
<g font-size="2.8" text-anchor="middle" fill="#222">
<text x="149" y="1003">用地平衡表</text>
<text y="1010.4"><tspan x="109">项目</tspan><tspan x="143">面积(公顷)</tspan><tspan x="168.7">所占比例(%)</tspan><tspan x="196">人均面积(㎡/人)</tspan></text>
<text y="1017.8"><tspan x="109">居住区用地</tspan><tspan x="143">14.45</tspan><tspan x="168.7">100</tspan><tspan x="196">40.33</tspan></text>
<text y="1025.2"><tspan x="93">1</tspan><tspan x="114">住宅用地</tspan><tspan x="143">4.25</tspan><tspan x="168.7">31.18</tspan><tspan x="196">16.34</tspan></text>
<text y="1032.6"><tspan x="93">2</tspan><tspan x="114">公建用地</tspan><tspan x="143">2.03</tspan><tspan x="168.7">16.13</tspan><tspan x="196">3.29</tspan></text>
<text y="1040"><tspan x="93">3</tspan><tspan x="114">道路用地</tspan><tspan x="143">2.40</tspan><tspan x="168.7">9.54</tspan><tspan x="196">11.28</tspan></text>
<text y="1047.4"><tspan x="93">4</tspan><tspan x="114">公共绿地</tspan><tspan x="143">3.75</tspan><tspan x="168.7">25.55</tspan><tspan x="196">15.19</tspan></text>
<text y="1054.8"><tspan x="109">其它用地</tspan><tspan x="143">2.02</tspan><tspan x="168.7">17.55</tspan><tspan x="196">13.57</tspan></text>
<text y="1062.2"><tspan x="109">居住区规划总用地</tspan><tspan x="143">14.45</tspan></text>
</g>
</g>
<use xlink:href="#smallT" href="#smallT" transform="translate(128.7,0)"/>

<g id="econT5">
<rect x="603.9" y="712.6" width="128.6" height="274.3" fill="#fff" stroke="#555" stroke-width="0.3"/>
<rect x="603.9" y="712.6" width="128.6" height="274.3" fill="url(#pe)"/>
<g stroke="#777" stroke-width="0.25">
<line x1="660" y1="720" x2="660" y2="979"/><line x1="678.9" y1="720" x2="678.9" y2="979"/><line x1="692.6" y1="720" x2="692.6" y2="979"/><line x1="617" y1="757" x2="617" y2="979"/>
</g>
<text x="668" y="718.3" font-size="3.3" text-anchor="middle">一期经济技术指标</text>
<g font-size="3" fill="#222">
<text y="725.6"><tspan x="632" text-anchor="middle">项目</tspan><tspan x="669" text-anchor="middle">数值</tspan><tspan x="685.7" text-anchor="middle">单 位</tspan><tspan x="712" text-anchor="middle">备注</tspan></text>
<text y="733"><tspan x="620">规划用地面积</tspan><tspan x="662">87284.09</tspan><tspan x="684">㎡</tspan><tspan x="700">约130.92亩</tspan></text>
<text y="740.4"><tspan x="623">总建筑面积</tspan><tspan x="662">297793.92</tspan><tspan x="684">㎡</tspan></text>
<text y="747.8"><tspan x="623">地上总建筑面积</tspan><tspan x="662">236427.31</tspan><tspan x="684">㎡</tspan></text>
<text y="755.2"><tspan x="623">总计容建筑面积</tspan><tspan x="662">236458.82</tspan><tspan x="684">㎡</tspan><tspan x="693.5" font-size="2">其中包含25#26#楼半地室计容面积</tspan></text>
<text y="762.6"><tspan x="619">住宅</tspan><tspan x="662">229068.20</tspan><tspan x="684">㎡</tspan></text>
<text y="770"><tspan x="619">商业</tspan><tspan x="662">2124.66</tspan><tspan x="684">㎡</tspan></text>
<text y="777.4"><tspan x="619">半地下计容面积</tspan><tspan x="662">784.72</tspan><tspan x="684">㎡</tspan></text>
<text y="784.8"><tspan x="619">消防控制室</tspan><tspan x="662">32.70</tspan><tspan x="684">㎡</tspan><tspan x="697" font-size="2.2">地下一层(不计容)</tspan></text>
<text y="792.2"><tspan x="617.5">物业管理用房</tspan><tspan x="662">545.66</tspan><tspan x="684">㎡</tspan><tspan x="693.5" font-size="2">按不小于总建筑面积的3‰配建</tspan></text>
<text y="799.6"><tspan x="662">1307.37</tspan><tspan x="693.5" font-size="2">实际使用面积不小于200平方米</tspan></text>
<text y="807"><tspan x="605">其中</tspan><tspan x="617.5">社区用房(社区服务站)</tspan><tspan x="662">1082.36</tspan><tspan x="684">㎡</tspan></text>
<text y="814.4"><tspan x="617.5">社区文化用房（文化活动站）</tspan><tspan x="662">765.46</tspan><tspan x="684">㎡</tspan></text>
<text y="821.8"><tspan x="619">社区卫生服务站</tspan><tspan x="662">201.89</tspan><tspan x="684">㎡</tspan><tspan x="693.5" font-size="2">不少于200㎡,且临街设置出入口</tspan></text>
<text y="829.2"><tspan x="619">老年人日间照料中心</tspan><tspan x="662">616.46</tspan><tspan x="684">㎡</tspan></text>
<text y="836.6"><tspan x="618">公厕</tspan><tspan x="662">62.62</tspan><tspan x="684">㎡</tspan><tspan x="693.5" font-size="2">≥1座/500户,有临街商业铺面应临</tspan></text>
<text y="844"><tspan x="662">374.30</tspan><tspan x="684">㎡</tspan></text>
<text y="851.4"><tspan x="605">风井</tspan><tspan x="625">计容风井面积</tspan><tspan x="662">133.4</tspan><tspan x="684">㎡</tspan></text>
<text y="858.8"><tspan x="625">不计容风井面积</tspan><tspan x="662">79.56</tspan><tspan x="684">㎡</tspan></text>
<text y="866.2"><tspan x="619">架空层</tspan><tspan x="662">673.65</tspan><tspan x="684">㎡</tspan><tspan x="697">不计容</tspan></text>
<text y="873.6"><tspan x="619">地下总建筑面积</tspan><tspan x="662">61366.61</tspan><tspan x="684">㎡</tspan></text>
<text y="881"><tspan x="605">其中</tspan><tspan x="619">半地下建筑面积</tspan><tspan x="662">1712.23</tspan><tspan x="684">㎡</tspan><tspan x="693.5" font-size="2.4">其中765.52㎡属于计容面积</tspan></text>
<text y="888.4"><tspan x="619">地下建筑面积</tspan><tspan x="662">59654.38</tspan><tspan x="684">㎡</tspan></text>
<text y="895.8"><tspan x="623">总建筑占地面积</tspan><tspan x="662">19083.37</tspan><tspan x="684">㎡</tspan></text>
<text y="903.2"><tspan x="623">总绿地面积</tspan><tspan x="662">28375.82</tspan><tspan x="684">㎡</tspan></text>
<text y="910.6"><tspan x="623">建筑密度</tspan><tspan x="662">21.74</tspan><tspan x="684">%</tspan><tspan x="697">规划要求≤22%</tspan></text>
<text y="918"><tspan x="623">绿地率</tspan><tspan x="662">32.51</tspan><tspan x="684">%</tspan></text>
<text y="925.4"><tspan x="623">容积率</tspan><tspan x="662">2.70</tspan><tspan x="684">%</tspan></text>
<text y="932.8"><tspan x="623">住宅户数</tspan><tspan x="662">1548</tspan><tspan x="684">户</tspan></text>
<text y="940.2"><tspan x="623">机动车停车位</tspan><tspan x="662">1770</tspan><tspan x="684">辆</tspan><tspan x="694" font-size="2.4">(其中无障碍车位47辆)</tspan></text>
<text y="947.6"><tspan x="605">其中</tspan><tspan x="630">地下停车</tspan><tspan x="662">1548</tspan><tspan x="684">辆</tspan><tspan x="694" font-size="2.4">按1个/100㎡地上建筑面</tspan></text>
<text y="955"><tspan x="630">地上停车</tspan><tspan x="662">222</tspan><tspan x="684">辆</tspan></text>
<text y="962.4"><tspan x="621">非机动车停车位</tspan><tspan x="660.5" font-size="2.2">非机动车停车位747.77㎡</tspan></text>
<text y="969.8"><tspan x="612">所有车辆均已预留充电桩安装条件</tspan></text>
</g>
</g>
<use xlink:href="#econT5" href="#econT5" transform="translate(128.6,0)"/>
<g font-size="3" fill="#e00"><rect x="789" y="736" width="17" height="30" fill="#fff"/><text y="740.4"><tspan x="790.6">298509.57</tspan></text><text y="747.8"><tspan x="790.6">236652.70</tspan></text><text y="755.2"><tspan x="790.6">236684.21</tspan></text><text y="762.6"><tspan x="790.6">229402.52</tspan></text></g>

<g clip-path="url(#cT3)"><use xlink:href="#econT5" href="#econT5" transform="translate(-257.9,0)"/></g>
<g clip-path="url(#cT4)"><use xlink:href="#econT5" href="#econT5" transform="translate(-128.4,0)"/></g>
<line x1="346" y1="930" x2="475.9" y2="930" stroke="#555" stroke-width="0.3"/>
<line x1="476" y1="920" x2="604" y2="920" stroke="#555" stroke-width="0.3"/>
<g font-size="3.3" text-anchor="middle"><rect x="380" y="714.5" width="60" height="5" fill="#fff"/><text x="410" y="718.3">二期经济技术指标</text><rect x="510" y="714.5" width="60" height="5" fill="#fff"/><text x="540" y="718.3">二期经济技术指标</text></g>

<g id="pubT">
<rect x="882.8" y="811" width="308.2" height="114.6" fill="#fff" stroke="#666" stroke-width="0.3"/>
<rect x="882.8" y="831.8" width="308.2" height="93.8" fill="url(#pp)"/>
<line x1="882.8" y1="821.4" x2="1191" y2="821.4" stroke="#777" stroke-width="0.25"/>
<g stroke="#888" stroke-width="0.25">
<line x1="893.5" y1="821.4" x2="893.5" y2="925.6"/><line x1="933.7" y1="821.4" x2="933.7" y2="925.6"/><line x1="954.7" y1="821.4" x2="954.7" y2="925.6"/><line x1="979" y1="821.4" x2="979" y2="925.6"/><line x1="992.9" y1="821.4" x2="992.9" y2="925.6"/><line x1="1041.8" y1="821.4" x2="1041.8" y2="925.6"/><line x1="1078.7" y1="821.4" x2="1078.7" y2="925.6"/><line x1="1133.2" y1="821.4" x2="1133.2" y2="925.6"/>
</g>
<text x="1036" y="817.5" font-size="3.3" text-anchor="middle">公共服务设施一览表</text>
<g font-size="3" fill="#222">
<text y="827.8" text-anchor="middle"><tspan x="888">序号</tspan><tspan x="913">公共设施名称</tspan><tspan x="944">独立占地面积</tspan><tspan x="967">建筑面积</tspan><tspan x="986">数量</tspan><tspan x="1017">备注</tspan><tspan x="1060">规范要求面积</tspan><tspan x="1106">是否满足规范</tspan><tspan x="1162">位置及面积</tspan></text>
<text y="837.5"><tspan x="887">1</tspan><tspan x="896">幼儿园</tspan><tspan x="961">3100.95</tspan><tspan x="985">1</tspan><tspan x="994" font-size="1.8">东乾苑831户，约人口2493人。</tspan><tspan x="1043" font-size="1.8">幼儿园按照每一千人12-15人设置</tspan><tspan x="1100">满足规范</tspan><tspan x="1135">东乾苑,面积3100.95平方米。</tspan></text>
<text y="845.3"><tspan x="887">2</tspan><tspan x="896">消防控制室</tspan><tspan x="961">63.6</tspan><tspan x="985">2</tspan><tspan x="1100">满足规范</tspan><tspan x="1135" font-size="2.4">一期6#楼地下一层,面积32.70平方米。</tspan></text>
<text y="853.1"><tspan x="887">3</tspan><tspan x="896">物业管理用房</tspan><tspan x="961">1853.03</tspan><tspan x="985">2</tspan><tspan x="994" font-size="1.8">按不小于总建筑面积的3‰配建</tspan><tspan x="1043" font-size="1.8">物业管理用房需要:1770.54平方米</tspan><tspan x="1100">满足规范</tspan><tspan x="1135" font-size="2.4">一期10#楼地下一层,面积545.66平方米。</tspan></text>
<text y="860.9"><tspan x="887">4</tspan><tspan x="896">社区用房(社区服务站)</tspan><tspan x="961">1082.36</tspan><tspan x="985">1</tspan><tspan x="994" font-size="1.8">社区用房：按30平米/百户</tspan><tspan x="1043" font-size="1.8">社区用房需要:913.2平方米</tspan><tspan x="1100">满足规范</tspan><tspan x="1135" font-size="2.4">一期43#楼三层,面积1082.36平方米。</tspan></text>
<text y="868.7"><tspan x="887">5</tspan><tspan x="896">社区文化用房(文化活动站)</tspan><tspan x="961">765.46</tspan><tspan x="985">1</tspan><tspan x="994" font-size="1.8">文化用房：宜结合社区用房等设置</tspan><tspan x="1043" font-size="1.8">社区文化用房需要:663.2平方米</tspan><tspan x="1100">满足规范</tspan><tspan x="1135" font-size="2.4">一期43#楼二层,面积765.46平方米。</tspan></text>
<text y="876.5"><tspan x="887">6</tspan><tspan x="896">社区卫生服务站</tspan><tspan x="961">201.89</tspan><tspan x="985">1</tspan><tspan x="994" font-size="1.8">不少于200㎡,且临街设置出入口</tspan><tspan x="1043" font-size="1.8">社区卫生服务站需要:200平方米</tspan><tspan x="1100">满足规范</tspan><tspan x="1135" font-size="2.4">一期5#楼商业一层,面积201.89平方米。</tspan></text>
<text y="884.3"><tspan x="887">7</tspan><tspan x="896">老年人日间照料中心</tspan><tspan x="961">616.46</tspan><tspan x="985">1</tspan><tspan x="994" font-size="1.8">不少于500㎡,并且满足按20平米/百户</tspan><tspan x="1043" font-size="1.8">老年人日间照料中心需要:608.8平方米</tspan><tspan x="1100">满足规范</tspan><tspan x="1135" font-size="2.4">一期10#楼一层,面积616.46平方米。</tspan></text>
<text y="892.1"><tspan x="887">8</tspan><tspan x="896">健身设施用地</tspan><tspan x="938">3358.23</tspan><tspan x="985">3</tspan><tspan x="994" font-size="1.8">宜结合小区广场、绿地设置</tspan><tspan x="1043" font-size="1.8">健身设施用地需要:2844平方米</tspan><tspan x="1100">满足规范</tspan><tspan x="1135" font-size="1.8">一期11#楼右侧,面积1282.86平方米。</tspan></text>
<text y="899.9"><tspan x="887">9</tspan><tspan x="896">公厕</tspan><tspan x="939">53.04</tspan><tspan x="961">489.96</tspan><tspan x="985">6</tspan><tspan x="994" font-size="1.8">≥1座/500户,有临街商业铺面</tspan><tspan x="1043" font-size="1.8">公厕需要:6处每座面积需要:50平方米</tspan><tspan x="1100">满足规范</tspan><tspan x="1135" font-size="1.8">二期垃圾转运中心及公厕一层,面积53.04平方米。</tspan></text>
<text y="907.7"><tspan x="886">10</tspan><tspan x="896">垃圾收集点</tspan><tspan x="941">33</tspan><tspan x="984">26</tspan><tspan x="994" font-size="1.8">以垃圾桶和垃圾箱车为主</tspan><tspan x="1100">满足规范</tspan></text>
<text y="915.5"><tspan x="886">11</tspan><tspan x="896">垃圾转运中心</tspan><tspan x="939">55.12</tspan><tspan x="961">55.12</tspan><tspan x="985">1</tspan><tspan x="994" font-size="1.8">垃圾转运中心建筑进深不小于10米</tspan><tspan x="1100">满足规范</tspan><tspan x="1135" font-size="1.8">二期垃圾转运中心及公厕一层,面积55.12平方米。</tspan></text>
<text y="923.3"><tspan x="886">12</tspan><tspan x="896">快递收集点</tspan><tspan x="962">20</tspan><tspan x="985">2</tspan><tspan x="994" font-size="1.8">≥10㎡,宜结合门卫室、物业管理房等设置</tspan><tspan x="1100">满足规范</tspan><tspan x="1135" font-size="2.2">二期北门大门,面积10平方米。</tspan></text>
</g>
</g>
<use xlink:href="#pubT" href="#pubT" transform="translate(306,0)"/>

<g opacity="0.75" fill="none" stroke="#e8607a">
<circle cx="1480" cy="712" r="61" stroke-width="2.6"/>
<circle cx="1480" cy="712" r="58" stroke-width="0.6"/>
</g>
<path id="arc" d="M1436,738 A51,51 0 1,1 1524,738" fill="none"/>
<text font-size="12" fill="#e8607a" opacity="0.75" font-weight="bold"><textPath xlink:href="#arc" href="#arc">绿盟（北京）国际工程设计有限公司</textPath></text>
<polygon points="1480,692 1484.7,705.5 1499,705.8 1487.6,714.5 1491.8,728.2 1480,720 1468.2,728.2 1472.4,714.5 1461,705.8 1475.3,705.5" fill="#e8607a" opacity="0.7"/>
<text x="1480" y="752" font-size="3.2" fill="#e8607a" opacity="0.75" text-anchor="middle">1101050000000</text>
</svg>
</body></html>
